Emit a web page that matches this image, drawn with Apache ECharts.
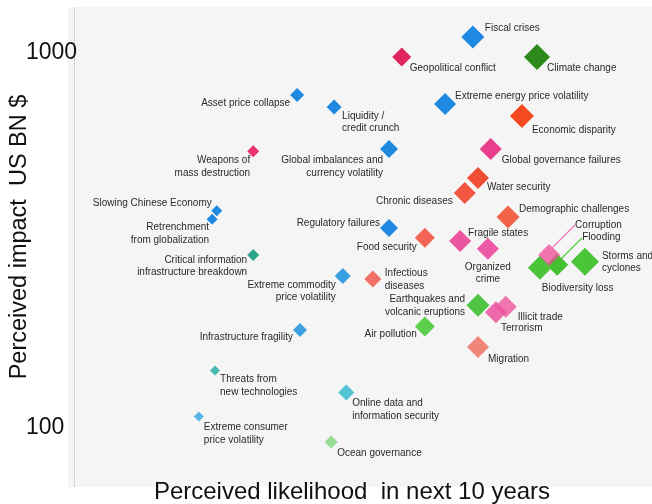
<!DOCTYPE html>
<html><head><meta charset="utf-8">
<script src="https://cdn.jsdelivr.net/npm/echarts@6/dist/echarts.min.js"></script>
<style>html,body{margin:0;padding:0;background:#fff}#c{width:652px;height:504px}</style>
</head><body><div id="c"></div>
<script>
// ---- data ----
const risks = [
  'Fiscal crises','Geopolitical conflict','Climate change','Extreme energy price volatility','Economic disparity',
  'Asset price collapse','Liquidity /\ncredit crunch','Global imbalances and\ncurrency volatility','Weapons of\nmass destruction','Global governance failures',
  'Water security','Chronic diseases','Demographic challenges','Regulatory failures','Food security',
  'Fragile states','Organized\ncrime','Flooding','Biodiversity loss','Corruption',
  'Storms and\ncyclones','Infectious\ndiseases','Extreme commodity\nprice volatility','Critical information\ninfrastructure breakdown','Slowing Chinese Economy',
  'Retrenchment\nfrom globalization','Earthquakes and\nvolcanic eruptions','Illicit trade','Terrorism','Air pollution',
  'Migration','Infrastructure fragility','Threats from\nnew technologies','Extreme consumer\nprice volatility','Online data and\ninformation security',
  'Ocean governance'
];
// perceived likelihood (relative scale 0-100)
const likelihood = [
  69.0, 56.7, 80.1, 64.2, 77.5,
  38.6, 45.0, 54.5, 31.0, 72.1,
  69.9, 67.6, 75.1, 54.5, 60.7,
  66.8, 71.6, 83.6, 80.6, 82.2,
  88.4, 51.7, 46.5, 31.0, 24.7,
  23.9, 69.9, 74.7, 73.0, 60.7,
  69.9, 39.1, 24.4, 21.6, 47.1,
  44.5
];
// perceived impact, US$ bn
const impact = [
  1103, 976, 976, 731, 679,
  773, 718, 554, 547, 554,
  464, 423, 365, 341, 321,
  315, 300, 272, 267, 289,
  277, 249, 254, 289, 379,
  360, 212, 210, 203, 186,
  164, 182, 142, 107, 124,
  91.5
];
const yTickLabels = [100, 1000];
const xTitle = 'Perceived likelihood  in next 10 years';
const yTitle = 'Perceived impact  US BN $';

// ---- styles (marker size, colour, label placement) ----
const BLUE = '#1f88e0', GREEN = '#4cc43a';
const styles = [
  {s:23,c:BLUE,a:'left',o:[12,-9]},
  {s:19,c:'#e0245e',a:'left',o:[8,11]},
  {s:26,c:'#2f8a1c',a:'left',o:[10,11]},
  {s:22,c:BLUE,a:'left',o:[10,-8]},
  {s:24,c:'#f34a22',a:'left',o:[10,14]},
  {s:14,c:BLUE,a:'right',o:[-7,8]},
  {s:15,c:BLUE,a:'left',o:[8,3],v:'top'},
  {s:18,c:BLUE,a:'right',o:[-6,5],v:'top'},
  {s:12,c:'#e8336f',a:'right',o:[-3,3],v:'top'},
  {s:22,c:'#e83e8c',a:'left',o:[11,11]},
  {s:22,c:'#f24e36',a:'left',o:[9,9]},
  {s:22,c:'#f25540',a:'right',o:[-12,8]},
  {s:23,c:'#f26448',a:'left',o:[11,-8]},
  {s:18,c:BLUE,a:'right',o:[-9,-5]},
  {s:20,c:'#f26555',a:'right',o:[-8,9]},
  {s:22,c:'#ec55a0',a:'left',o:[8,-8]},
  {s:22,c:'#ec5aa5',a:'center',o:[0,12],v:'top'},
  {s:22,c:'#44c030',a:'left',o:[25,-27],line:'#58c848'},
  {s:24,c:GREEN,a:'left',o:[2,20]},
  {s:22,c:'rgba(236,80,150,0.78)',a:'left',o:[26,-30],line:'#ec6aaa'},
  {s:28,c:GREEN,a:'left',o:[17,-12],v:'top'},
  {s:17,c:'#f07065',a:'left',o:[12,-12],v:'top'},
  {s:16,c:'#3a9fe0',a:'right',o:[-7,3],v:'top'},
  {s:12,c:'#2ea48e',a:'right',o:[-6,-1],v:'top'},
  {s:11,c:BLUE,a:'right',o:[-5,-8]},
  {s:11,c:BLUE,a:'right',o:[-3,2],v:'top'},
  {s:23,c:'#50c444',a:'right',o:[-13,-12],v:'top'},
  {s:22,c:'rgba(238,100,165,0.88)',a:'left',o:[12,10]},
  {s:22,c:'rgba(236,85,160,0.88)',a:'left',o:[5,16]},
  {s:20,c:'#5cce4c',a:'right',o:[-8,8]},
  {s:22,c:'#f0857a',a:'left',o:[10,12]},
  {s:14,c:'#3fa2e0',a:'right',o:[-7,7]},
  {s:10,c:'#45b8b0',a:'left',o:[5,3],v:'top'},
  {s:10,c:'#5ab4e6',a:'left',o:[5,5],v:'top'},
  {s:16,c:'#55c4d4',a:'left',o:[6,5],v:'top'},
  {s:13,c:'#98dc98',a:'left',o:[6,11]}
];

const data = risks.map((name, i) => {
  const st = styles[i];
  const item = {
    name: name,
    value: [likelihood[i], impact[i]],
    symbolSize: st.s,
    itemStyle: {color: st.c, opacity: 1},
    label: {
      show: true, position: [st.s / 2 + st.o[0], st.s / 2 + st.o[1]], formatter: name,
      align: st.a, verticalAlign: st.v || 'middle',
      color: '#2a2a2a', fontSize: 10, lineHeight: 12.5,
      fontFamily: 'Liberation Sans, Arial, sans-serif'
    }
  };
  if (st.line) item.labelLine = {show: true, lineStyle: {color: st.line, width: 1.2}};
  return item;
});

const chart = echarts.init(document.getElementById('c'), null, {renderer: 'canvas'});
chart.setOption({
  animation: false,
  backgroundColor: '#ffffff',
  graphic: [{type: 'rect', z: -10, shape: {x: 68, y: 7, width: 584, height: 480}, style: {fill: '#f5f5f5'}, silent: true}],
  grid: {left: 74, right: 0, top: 7, bottom: 17, containLabel: false, outerBoundsMode: 'none'},
  xAxis: {
    type: 'value', min: 0, max: 100,
    axisLine: {show: false}, axisTick: {show: false}, axisLabel: {show: false}, splitLine: {show: false},
    name: xTitle, nameLocation: 'middle', nameGap: -7, nameMoveOverlap: false,
    nameTextStyle: {fontSize: 24, color: '#111', fontFamily: 'Liberation Sans, Arial, sans-serif', padding: [0, 22, 0, 0], verticalAlign: 'top'}
  },
  yAxis: {
    type: 'log', logBase: 10, min: 69.35, max: 1327,
    axisLine: {show: true, lineStyle: {color: '#d4d4d4', width: 1}},
    axisTick: {show: false}, splitLine: {show: false},
    axisLabel: {
      show: true, align: 'left', margin: 48, fontSize: 23, color: '#111',
      fontFamily: 'Liberation Sans, Arial, sans-serif',
      showMinLabel: false, showMaxLabel: false,
      formatter: v => { const t = yTickLabels.find(t => Math.abs(v - t) / t < 1e-6); return t ? String(t) : ''; }
    },
    name: yTitle, nameLocation: 'middle', nameGap: 42, nameRotate: 90, nameMoveOverlap: false,
    nameTextStyle: {fontSize: 23.5, color: '#111', fontFamily: 'Liberation Sans, Arial, sans-serif', padding: [0, 0, 0, 20]}
  },
  series: [{
    type: 'scatter', symbol: 'diamond', data: data,
    itemStyle: {opacity: 1},
    labelLayout: {hideOverlap: false},
    emphasis: {disabled: true}
  }]
});
</script></body></html>
